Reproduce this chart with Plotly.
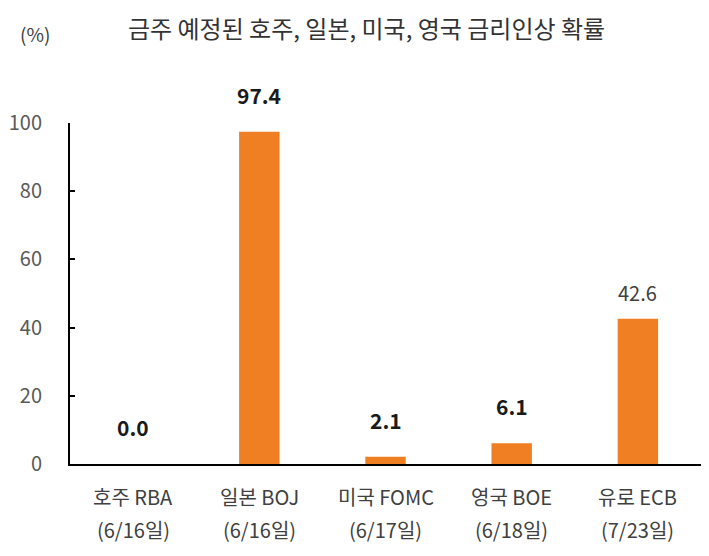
import plotly.graph_objects as go

categories = ["호주 RBA", "일본 BOJ", "미국 FOMC", "영국 BOE", "유로 ECB"]
dates = ["(6/16일)", "(6/16일)", "(6/17일)", "(6/18일)", "(7/23일)"]
values = [0.0, 97.4, 2.1, 6.1, 42.6]
bold_labels = [True, True, True, True, False]
y_ticks = [0, 20, 40, 60, 80, 100]

FONT = "Noto Sans CJK KR"
ORANGE = "#EF7F22"

fig = go.Figure()
fig.add_trace(go.Bar(
    x=categories, y=values, marker=dict(color=ORANGE, line=dict(width=0)),
    width=0.32, hoverinfo="skip",
))

annotations = []
for c, v, b in zip(categories, values, bold_labels):
    txt = f"{v:.1f}"
    annotations.append(dict(
        x=c, y=v, xref="x", yref="y", text=f"<b>{txt}</b>" if b else txt,
        showarrow=False, yanchor="bottom", yshift=20 if b else 10,
        font=dict(family=FONT, size=21 if b else 20, color="#1a1a1a" if b else "#404040"),
    ))
for c, d in zip(categories, dates):
    annotations.append(dict(
        x=c, y=0, xref="x", yref="y", text=c, showarrow=False,
        yanchor="middle", yshift=-32,
        font=dict(family=FONT, size=20, color="#404040"),
    ))
    annotations.append(dict(
        x=c, y=0, xref="x", yref="y", text=d, showarrow=False,
        yanchor="middle", yshift=-65,
        font=dict(family=FONT, size=20, color="#404040"),
    ))
annotations.append(dict(
    x=-0.055, y=1.0, xref="paper", yref="paper", xanchor="center", yanchor="middle",
    yshift=90, text="(%)", showarrow=False,
    font=dict(family=FONT, size=19, color="#404040"),
))

fig.update_layout(
    width=709, height=556,
    margin=dict(l=70, r=8, t=123, b=92),
    paper_bgcolor="white", plot_bgcolor="white",
    showlegend=False,
    title=dict(
        text="금주 예정된 호주, 일본, 미국, 영국 금리인상 확률",
        x=0.517, xanchor="center", y=0.947, yanchor="middle",
        font=dict(family=FONT, size=24, color="#333"),
    ),
    annotations=annotations,
    xaxis=dict(
        showticklabels=False, ticks="", showgrid=False, zeroline=False,
        showline=True, linecolor="black", linewidth=2,
        range=[-0.5, 4.5],
    ),
    yaxis=dict(
        range=[0, 100], tickvals=y_ticks, showgrid=False, zeroline=False,
        showline=True, linecolor="black", linewidth=2,
        ticks="inside", ticklen=5, tickwidth=2, tickcolor="black",
        tickfont=dict(family=FONT, size=20, color="#595959"),
        ticklabelstandoff=22,
    ),
)

fig.write_html("out.html")
